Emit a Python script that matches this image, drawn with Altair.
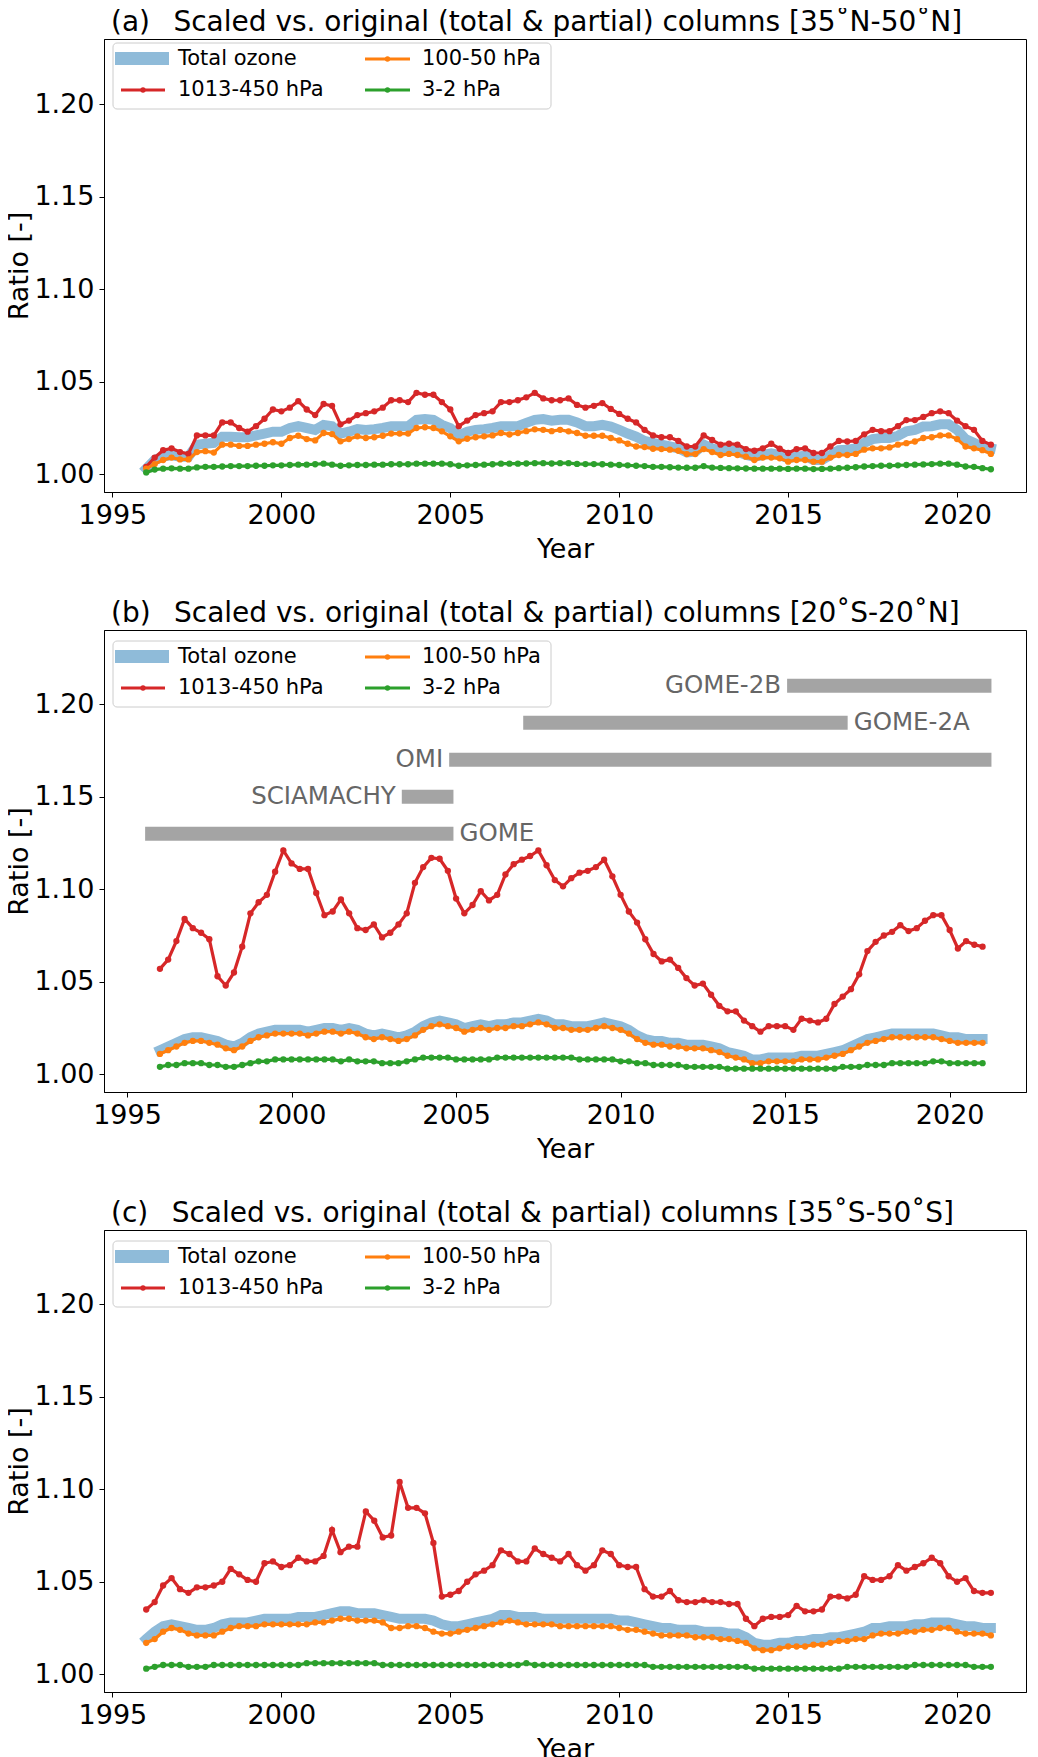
import altair as alt
import pandas as pd

FONT = "DejaVu Sans"
YEARS = [1996 + q / 4 for q in range(101)]

# ---------------- panel (a) 35N-50N ----------------
A_BLUE = [1.003, 1.0077, 1.0095, 1.0104,
          1.0095, 1.0095, 1.016, 1.0165,
          1.017, 1.0203, 1.0203, 1.020,
          1.020, 1.021, 1.022, 1.023,
          1.023, 1.025, 1.026, 1.025,
          1.024, 1.0267, 1.026, 1.022,
          1.023, 1.0244, 1.024, 1.0244,
          1.025, 1.026, 1.026, 1.026,
          1.0294, 1.0298, 1.0294, 1.0267,
          1.025, 1.021, 1.023, 1.024,
          1.0244, 1.025, 1.026, 1.026,
          1.026, 1.0278, 1.0294, 1.0298,
          1.029, 1.0294, 1.0294, 1.028,
          1.026, 1.026, 1.0267, 1.0258,
          1.024, 1.022, 1.0203, 1.018,
          1.017, 1.016, 1.015, 1.014,
          1.0118, 1.0122, 1.016, 1.014,
          1.0127, 1.013, 1.0122, 1.0104,
          1.0095, 1.0104, 1.0113, 1.0104,
          1.0086, 1.0095, 1.010, 1.0077,
          1.0077, 1.0104, 1.013, 1.0133,
          1.014, 1.017, 1.019, 1.0196,
          1.0196, 1.0208, 1.0232, 1.024,
          1.0258, 1.026, 1.027, 1.027,
          1.024, 1.019, 1.017, 1.015,
          1.014]
A_RED = [1.004, 1.009, 1.013, 1.014,
         1.012, 1.011, 1.021, 1.021,
         1.021, 1.028, 1.028, 1.025,
         1.023, 1.026, 1.030, 1.035,
         1.034, 1.036, 1.0395, 1.035,
         1.032, 1.038, 1.037, 1.027,
         1.029, 1.032, 1.033, 1.034,
         1.036, 1.040, 1.040, 1.039,
         1.044, 1.043, 1.043, 1.039,
         1.035, 1.026, 1.029, 1.032,
         1.033, 1.034, 1.039, 1.039,
         1.040, 1.0416, 1.044, 1.041,
         1.040, 1.040, 1.041, 1.0375,
         1.036, 1.037, 1.0385, 1.0353,
         1.0326, 1.030, 1.028, 1.024,
         1.021, 1.020, 1.020, 1.018,
         1.015, 1.015, 1.021, 1.0185,
         1.016, 1.0165, 1.016, 1.0136,
         1.0127, 1.014, 1.0165, 1.0138,
         1.0115, 1.0136, 1.014, 1.0115,
         1.0115, 1.015, 1.018, 1.0177,
         1.018, 1.0216, 1.024, 1.0233,
         1.0233, 1.026, 1.0293, 1.0293,
         1.031, 1.033, 1.034, 1.033,
         1.029, 1.026, 1.024, 1.018,
         1.016]
A_ORANGE = [1.003, 1.0055, 1.0077, 1.009,
            1.008, 1.008, 1.012, 1.0125,
            1.0117, 1.016, 1.016, 1.0153,
            1.0153, 1.016, 1.0165, 1.0173,
            1.0165, 1.0196, 1.0208, 1.019,
            1.0183, 1.0223, 1.0217, 1.0178,
            1.019, 1.0205, 1.0196, 1.020,
            1.0208, 1.022, 1.022, 1.022,
            1.025, 1.0254, 1.025, 1.0232,
            1.0205, 1.0178, 1.0192, 1.020,
            1.0205, 1.021, 1.0223, 1.0215,
            1.0223, 1.0233, 1.0243, 1.024,
            1.0233, 1.024, 1.0232, 1.0223,
            1.0208, 1.0208, 1.0208, 1.0196,
            1.0183, 1.0165, 1.015, 1.0147,
            1.0138, 1.0136, 1.0133, 1.0127,
            1.0109, 1.0109, 1.0136, 1.012,
            1.0104, 1.011, 1.0104, 1.0095,
            1.0077, 1.009, 1.009, 1.0086,
            1.0068, 1.0077, 1.0077, 1.0068,
            1.0068, 1.009, 1.0104, 1.0104,
            1.011, 1.0133, 1.014, 1.014,
            1.0145, 1.016, 1.0168, 1.0177,
            1.0196, 1.020, 1.021, 1.021,
            1.019, 1.015, 1.014, 1.013,
            1.011]
A_GREEN = [1.001, 1.0025, 1.003, 1.0032,
           1.003, 1.003, 1.0037, 1.004,
           1.004, 1.0042, 1.0044, 1.0044,
           1.0044, 1.0046, 1.0046, 1.0048,
           1.0048, 1.005, 1.0052, 1.0052,
           1.0054, 1.0057, 1.0052, 1.0046,
           1.0048, 1.005, 1.005, 1.0052,
           1.0052, 1.0054, 1.0054, 1.0054,
           1.0057, 1.0057, 1.0057, 1.0057,
           1.0054, 1.0046, 1.0048, 1.005,
           1.0052, 1.0054, 1.0057, 1.0057,
           1.0057, 1.0058, 1.006, 1.006,
           1.0058, 1.006, 1.006, 1.0056,
           1.0055, 1.0055, 1.0054, 1.0052,
           1.005, 1.0048, 1.0046, 1.0044,
           1.004, 1.004, 1.0038, 1.0036,
           1.0035, 1.0035, 1.0044, 1.0036,
           1.0034, 1.0033, 1.0032, 1.0031,
           1.003, 1.003, 1.003, 1.003,
           1.0029, 1.003, 1.003, 1.0028,
           1.0029, 1.003, 1.0033, 1.0035,
           1.0038, 1.0042, 1.0044, 1.0046,
           1.0046, 1.0048, 1.005, 1.0052,
           1.0053, 1.0055, 1.0057, 1.0057,
           1.0052, 1.0042, 1.004, 1.0033,
           1.0027]

# ---------------- panel (b) 20S-20N ----------------
B_BLUE = [1.013, 1.015, 1.017, 1.019,
          1.020, 1.020, 1.019, 1.018,
          1.016, 1.015, 1.017, 1.020,
          1.022, 1.023, 1.024, 1.024,
          1.024, 1.024, 1.023, 1.024,
          1.025, 1.025, 1.024, 1.025,
          1.024, 1.022, 1.021, 1.022,
          1.021, 1.020, 1.021, 1.023,
          1.026, 1.028, 1.029, 1.028,
          1.027, 1.025, 1.026, 1.027,
          1.026, 1.027, 1.027, 1.028,
          1.028, 1.029, 1.030, 1.029,
          1.027, 1.027, 1.026, 1.026,
          1.026, 1.027, 1.028, 1.027,
          1.026, 1.024, 1.021, 1.019,
          1.018, 1.018, 1.017, 1.017,
          1.016, 1.016, 1.016, 1.015,
          1.014, 1.012, 1.011, 1.010,
          1.008, 1.008, 1.009, 1.009,
          1.009, 1.009, 1.010, 1.010,
          1.010, 1.011, 1.012, 1.013,
          1.015, 1.017, 1.019, 1.020,
          1.021, 1.022, 1.022, 1.022,
          1.022, 1.022, 1.022, 1.021,
          1.020, 1.020, 1.019, 1.019,
          1.019]
B_RED = [1.057, 1.062, 1.072, 1.084,
         1.079, 1.0765, 1.073, 1.053,
         1.048, 1.055, 1.069, 1.087,
         1.093, 1.097, 1.1095, 1.121,
         1.114, 1.111, 1.111, 1.098,
         1.086, 1.088, 1.0945, 1.087,
         1.079, 1.078, 1.081, 1.074,
         1.0765, 1.081, 1.087, 1.1035,
         1.112, 1.117, 1.1165, 1.110,
         1.095, 1.087, 1.0915, 1.099,
         1.094, 1.097, 1.108, 1.1136,
         1.116, 1.118, 1.121, 1.113,
         1.105, 1.1016, 1.106, 1.109,
         1.110, 1.112, 1.116, 1.107,
         1.097, 1.088, 1.082, 1.073,
         1.065, 1.061, 1.062, 1.0575,
         1.052, 1.048, 1.049, 1.043,
         1.037, 1.034, 1.034, 1.029,
         1.026, 1.023, 1.026, 1.026,
         1.026, 1.024, 1.030, 1.029,
         1.028, 1.030, 1.038, 1.042,
         1.046, 1.054, 1.0666, 1.0716,
         1.075, 1.077, 1.0806, 1.0774,
         1.079, 1.083, 1.086, 1.086,
         1.078, 1.068, 1.072, 1.070,
         1.069]
B_ORANGE = [1.011, 1.013, 1.015, 1.017,
            1.018, 1.018, 1.017, 1.016,
            1.014, 1.013, 1.015, 1.018,
            1.020, 1.021, 1.022, 1.022,
            1.022, 1.022, 1.021, 1.022,
            1.023, 1.023, 1.022, 1.023,
            1.022, 1.020, 1.019, 1.020,
            1.019, 1.018, 1.019, 1.021,
            1.024, 1.026, 1.027, 1.026,
            1.025, 1.023, 1.024, 1.025,
            1.024, 1.025, 1.025, 1.026,
            1.026, 1.027, 1.028, 1.027,
            1.025, 1.025, 1.024, 1.024,
            1.024, 1.025, 1.026, 1.025,
            1.024, 1.022, 1.019, 1.017,
            1.016, 1.016, 1.015, 1.015,
            1.014, 1.014, 1.014, 1.013,
            1.012, 1.010, 1.009, 1.008,
            1.006, 1.006, 1.007, 1.007,
            1.007, 1.007, 1.008, 1.008,
            1.008, 1.009, 1.010, 1.011,
            1.013, 1.015, 1.017, 1.018,
            1.019, 1.020, 1.020, 1.020,
            1.020, 1.020, 1.020, 1.019,
            1.018, 1.017, 1.017, 1.017,
            1.017]
B_GREEN = [1.004, 1.005, 1.005, 1.006,
           1.006, 1.006, 1.005, 1.005,
           1.004, 1.004, 1.005, 1.006,
           1.007, 1.007, 1.008, 1.008,
           1.008, 1.008, 1.008, 1.008,
           1.008, 1.008, 1.007, 1.008,
           1.007, 1.007, 1.007, 1.006,
           1.006, 1.006, 1.007, 1.008,
           1.009, 1.009, 1.009, 1.009,
           1.008, 1.008, 1.008, 1.008,
           1.008, 1.009, 1.009, 1.009,
           1.009, 1.009, 1.009, 1.009,
           1.009, 1.009, 1.009, 1.008,
           1.008, 1.008, 1.008, 1.008,
           1.007, 1.007, 1.006, 1.006,
           1.005, 1.005, 1.005, 1.005,
           1.004, 1.004, 1.004, 1.004,
           1.004, 1.003, 1.003, 1.003,
           1.003, 1.003, 1.003, 1.003,
           1.003, 1.003, 1.003, 1.003,
           1.003, 1.003, 1.003, 1.004,
           1.004, 1.004, 1.005, 1.005,
           1.005, 1.006, 1.006, 1.006,
           1.006, 1.006, 1.007, 1.007,
           1.006, 1.006, 1.006, 1.006,
           1.006]

# ---------------- panel (c) 35S-50S ----------------
C_BLUE = [1.019, 1.023, 1.026, 1.027,
          1.026, 1.025, 1.024, 1.024,
          1.025, 1.027, 1.028, 1.028,
          1.028, 1.029, 1.030, 1.030,
          1.030, 1.030, 1.031, 1.031,
          1.031, 1.032, 1.033, 1.034,
          1.034, 1.033, 1.033, 1.033,
          1.032, 1.031, 1.030, 1.030,
          1.030, 1.030, 1.029, 1.027,
          1.026, 1.026, 1.027, 1.028,
          1.029, 1.030, 1.032, 1.032,
          1.031, 1.031, 1.031, 1.030,
          1.030, 1.030, 1.030, 1.030,
          1.030, 1.030, 1.030, 1.030,
          1.029, 1.029, 1.028, 1.027,
          1.026, 1.025, 1.025, 1.024,
          1.024, 1.024, 1.023, 1.023,
          1.023, 1.022, 1.022, 1.020,
          1.017, 1.016, 1.016, 1.017,
          1.017, 1.018, 1.018, 1.019,
          1.019, 1.020, 1.020, 1.021,
          1.022, 1.023, 1.025, 1.025,
          1.026, 1.026, 1.026, 1.027,
          1.027, 1.028, 1.028, 1.028,
          1.027, 1.026, 1.026, 1.025,
          1.025]
C_RED = [1.035, 1.039, 1.048, 1.052,
         1.046, 1.044, 1.047, 1.047,
         1.048, 1.050, 1.057, 1.054,
         1.051, 1.050, 1.060, 1.061,
         1.058, 1.059, 1.063, 1.061,
         1.061, 1.064, 1.078, 1.066,
         1.069, 1.069, 1.088, 1.083,
         1.074, 1.075, 1.104, 1.090,
         1.090, 1.087, 1.071, 1.042,
         1.043, 1.045, 1.050, 1.054,
         1.056, 1.059, 1.067, 1.065,
         1.061, 1.061, 1.068, 1.065,
         1.063, 1.061, 1.065, 1.059,
         1.056, 1.059, 1.067, 1.065,
         1.059, 1.058, 1.058, 1.046,
         1.042, 1.042, 1.045, 1.040,
         1.039, 1.039, 1.040, 1.039,
         1.039, 1.038, 1.038, 1.030,
         1.026, 1.030, 1.031, 1.031,
         1.032, 1.037, 1.034, 1.034,
         1.035, 1.042, 1.042, 1.041,
         1.043, 1.053, 1.051, 1.051,
         1.053, 1.059, 1.056, 1.058,
         1.060, 1.063, 1.060, 1.053,
         1.050, 1.052, 1.045, 1.044,
         1.044]
C_ORANGE = [1.017, 1.019, 1.023, 1.025,
            1.024, 1.022, 1.021, 1.021,
            1.021, 1.023, 1.025, 1.026,
            1.026, 1.026, 1.027, 1.027,
            1.027, 1.027, 1.027, 1.027,
            1.028, 1.028, 1.029, 1.030,
            1.030, 1.029, 1.029, 1.029,
            1.028, 1.025, 1.025, 1.026,
            1.026, 1.025, 1.023, 1.022,
            1.022, 1.023, 1.024, 1.025,
            1.026, 1.027, 1.028, 1.029,
            1.028, 1.027, 1.027, 1.027,
            1.027, 1.026, 1.026, 1.026,
            1.026, 1.026, 1.026, 1.026,
            1.025, 1.024, 1.024, 1.023,
            1.022, 1.021, 1.021, 1.021,
            1.021, 1.020, 1.020, 1.020,
            1.019, 1.019, 1.018, 1.017,
            1.014, 1.013, 1.013, 1.014,
            1.015, 1.015, 1.015, 1.016,
            1.016, 1.017, 1.018, 1.018,
            1.019, 1.019, 1.021, 1.022,
            1.022, 1.022, 1.023, 1.023,
            1.024, 1.024, 1.025, 1.025,
            1.023, 1.022, 1.022, 1.022,
            1.021]
C_GREEN = [1.003, 1.004, 1.005, 1.005,
           1.005, 1.004, 1.004, 1.004,
           1.005, 1.005, 1.005, 1.005,
           1.005, 1.005, 1.005, 1.005,
           1.005, 1.005, 1.005, 1.006,
           1.006, 1.006, 1.006, 1.006,
           1.006, 1.006, 1.006, 1.006,
           1.005, 1.005, 1.005, 1.005,
           1.005, 1.005, 1.005, 1.005,
           1.005, 1.005, 1.005, 1.005,
           1.005, 1.005, 1.005, 1.005,
           1.005, 1.006, 1.005, 1.005,
           1.005, 1.005, 1.005, 1.005,
           1.005, 1.005, 1.005, 1.005,
           1.005, 1.005, 1.005, 1.005,
           1.004, 1.004, 1.004, 1.004,
           1.004, 1.004, 1.004, 1.004,
           1.004, 1.004, 1.004, 1.004,
           1.003, 1.003, 1.003, 1.003,
           1.003, 1.003, 1.003, 1.003,
           1.003, 1.003, 1.003, 1.004,
           1.004, 1.004, 1.004, 1.004,
           1.004, 1.004, 1.004, 1.005,
           1.005, 1.005, 1.005, 1.005,
           1.005, 1.005, 1.004, 1.004,
           1.004]

# satellite periods (panel b)
SAT_NAMES = ["GOME", "SCIAMACHY", "OMI", "GOME-2A", "GOME-2B"]
SAT_START = [1995.55, 2003.35, 2004.79, 2007.04, 2015.06]
SAT_END = [2004.92, 2004.92, 2021.27, 2016.90, 2021.27]
SAT_LEVEL = [1.13, 1.15, 1.17, 1.19, 1.21]
SAT_LABEL_AT_END = ["GOME", "GOME-2A"]

SERIES = ["Total ozone", "1013-450 hPa", "100-50 hPa", "3-2 hPa"]
C_TOT, C_RED_, C_ORA, C_GRN = "#8fbbd9", "#d62728", "#ff7f0e", "#2ca02c"

X_TICKS = [1995, 2000, 2005, 2010, 2015, 2020]
Y_TICKS = [1.00, 1.05, 1.10, 1.15, 1.20]
Y_LO, Y_HI = 0.9904, 1.2402
PX_PER_UNIT = 1850.0
W, H = 922, 462
NB = "\u00a0"


def frame(vals):
    return pd.DataFrame({"year": YEARS, "value": vals})


def legend_layers(dy):
    one = alt.Data(values=[{"k": 1}])
    L = []
    L.append(alt.Chart(one).mark_rect(cornerRadius=4, fill="white", fillOpacity=0.8,
                                       stroke="#cccccc", strokeWidth=1)
             .encode(x=alt.value(9), x2=alt.value(447), y=alt.value(11 + dy), y2=alt.value(77 + dy)))
    L.append(alt.Chart(one).mark_rect(color=C_TOT)
             .encode(x=alt.value(11), x2=alt.value(65), y=alt.value(20 + dy), y2=alt.value(33 + dy)))
    for (x1, x2, yy, col) in [(17, 61, 58, C_RED_), (261, 306, 27, C_ORA), (261, 306, 58, C_GRN)]:
        L.append(alt.Chart(one).mark_rule(color=col, strokeWidth=3.2)
                 .encode(x=alt.value(x1), x2=alt.value(x2), y=alt.value(yy + dy)))
        L.append(alt.Chart(one).mark_circle(color=col, size=28, opacity=1)
                 .encode(x=alt.value((x1 + x2) / 2), y=alt.value(yy + dy)))
    for (tx, ty, label) in [(74, 27, SERIES[0]), (74, 58, SERIES[1]),
                            (318, 27, SERIES[2]), (318, 58, SERIES[3])]:
        L.append(alt.Chart(one).mark_text(text=label, align="left", baseline="middle",
                                           font=FONT, fontSize=21, color="black")
                 .encode(x=alt.value(tx), y=alt.value(ty + dy)))
    return L


def panel(title, blue, red, orange, green, xdom, sats=False, trim=0, legend_dy=0):
    # trim: pixels removed from the top of the plot area (keeps the y pixel scale)
    xs = alt.Scale(domain=xdom, nice=False, zero=False)
    ys = alt.Scale(domain=[Y_LO, Y_HI - trim / PX_PER_UNIT], nice=False, zero=False)
    xax = alt.Axis(values=X_TICKS, format="d", title="Year", labelFlush=False)
    yax = alt.Axis(values=Y_TICKS, format=".2f", title="Ratio [-]")
    layers = []
    if sats:
        sdf = pd.DataFrame({"name": SAT_NAMES, "start": SAT_START,
                            "end": SAT_END, "level": SAT_LEVEL})
        layers.append(alt.Chart(sdf).mark_rule(color="#a4a4a4", strokeWidth=14, strokeCap="butt")
                      .encode(x=alt.X("start:Q", scale=xs, axis=xax), x2="end:Q",
                              y=alt.Y("level:Q", scale=ys, axis=yax)))
        at_end = sdf[sdf["name"].isin(SAT_LABEL_AT_END)]
        at_start = sdf[~sdf["name"].isin(SAT_LABEL_AT_END)]
        layers.append(alt.Chart(at_end).mark_text(align="left", baseline="middle", dx=6,
                                                  font=FONT, fontSize=24.5, color="#666666")
                      .encode(x=alt.X("end:Q", scale=xs, axis=xax),
                              y=alt.Y("level:Q", scale=ys, axis=yax), text="name:N"))
        layers.append(alt.Chart(at_start).mark_text(align="right", baseline="middle", dx=-6,
                                                    font=FONT, fontSize=24.5, color="#666666")
                      .encode(x=alt.X("start:Q", scale=xs, axis=xax),
                              y=alt.Y("level:Q", scale=ys, axis=yax), text="name:N"))
    enc = dict(x=alt.X("year:Q", scale=xs, axis=xax), y=alt.Y("value:Q", scale=ys, axis=yax))
    layers.append(alt.Chart(frame(blue)).mark_line(color=C_TOT, strokeWidth=10, strokeCap="square")
                  .encode(**enc))
    for vals, col in [(red, C_RED_), (orange, C_ORA), (green, C_GRN)]:
        d = frame(vals)
        layers.append(alt.Chart(d).mark_line(color=col, strokeWidth=3.2).encode(**enc))
        layers.append(alt.Chart(d).mark_circle(color=col, size=40, opacity=1).encode(**enc))
    layers += legend_layers(legend_dy)
    return alt.layer(*layers).properties(
        width=W, height=H - trim,
        title=alt.TitleParams(text=title, anchor="start", frame="group", offset=2, dx=7,
                              font=FONT, fontSize=28, fontWeight="normal", color="black"))


GAP = NB * 2 + "\u2009"
T_A = "(a)" + GAP + "Scaled vs. original (total & partial) columns [35˚N-50˚N]"
T_B = "(b)" + GAP + "Scaled vs. original (total & partial) columns [20˚S-20˚N]"
T_C = "(c)" + GAP + "Scaled vs. original (total & partial) columns [35˚S-50˚S]"

# x domains: same pixel-per-year scale as the original, right end trimmed to fit the page
pa = panel(T_A, A_BLUE, A_RED, A_ORANGE, A_GREEN, [1994.75, 2022.04], trim=9, legend_dy=-7)
pb = panel(T_B, B_BLUE, B_RED, B_ORANGE, B_GREEN, [1994.30, 2022.32], sats=True)
pc = panel(T_C, C_BLUE, C_RED, C_ORANGE, C_GREEN, [1994.75, 2022.04])

chart = alt.vconcat(pa, pb, pc, spacing=36).properties(
    padding={"top": 0, "left": -3, "right": 0, "bottom": 0}
).configure_view(
    stroke="black", strokeWidth=1
).configure_axis(
    labelFont=FONT, titleFont=FONT, labelFontSize=27, titleFontSize=27,
    titleFontWeight="normal", labelColor="black", titleColor="black",
    domainColor="black", tickColor="black", tickSize=5, grid=False,
    labelPadding=5, domainWidth=1, tickWidth=1
).configure_axisX(titlePadding=8).configure_axisY(titlePadding=0)

chart.save("out.html", embed_options={"renderer": "svg", "actions": False})
